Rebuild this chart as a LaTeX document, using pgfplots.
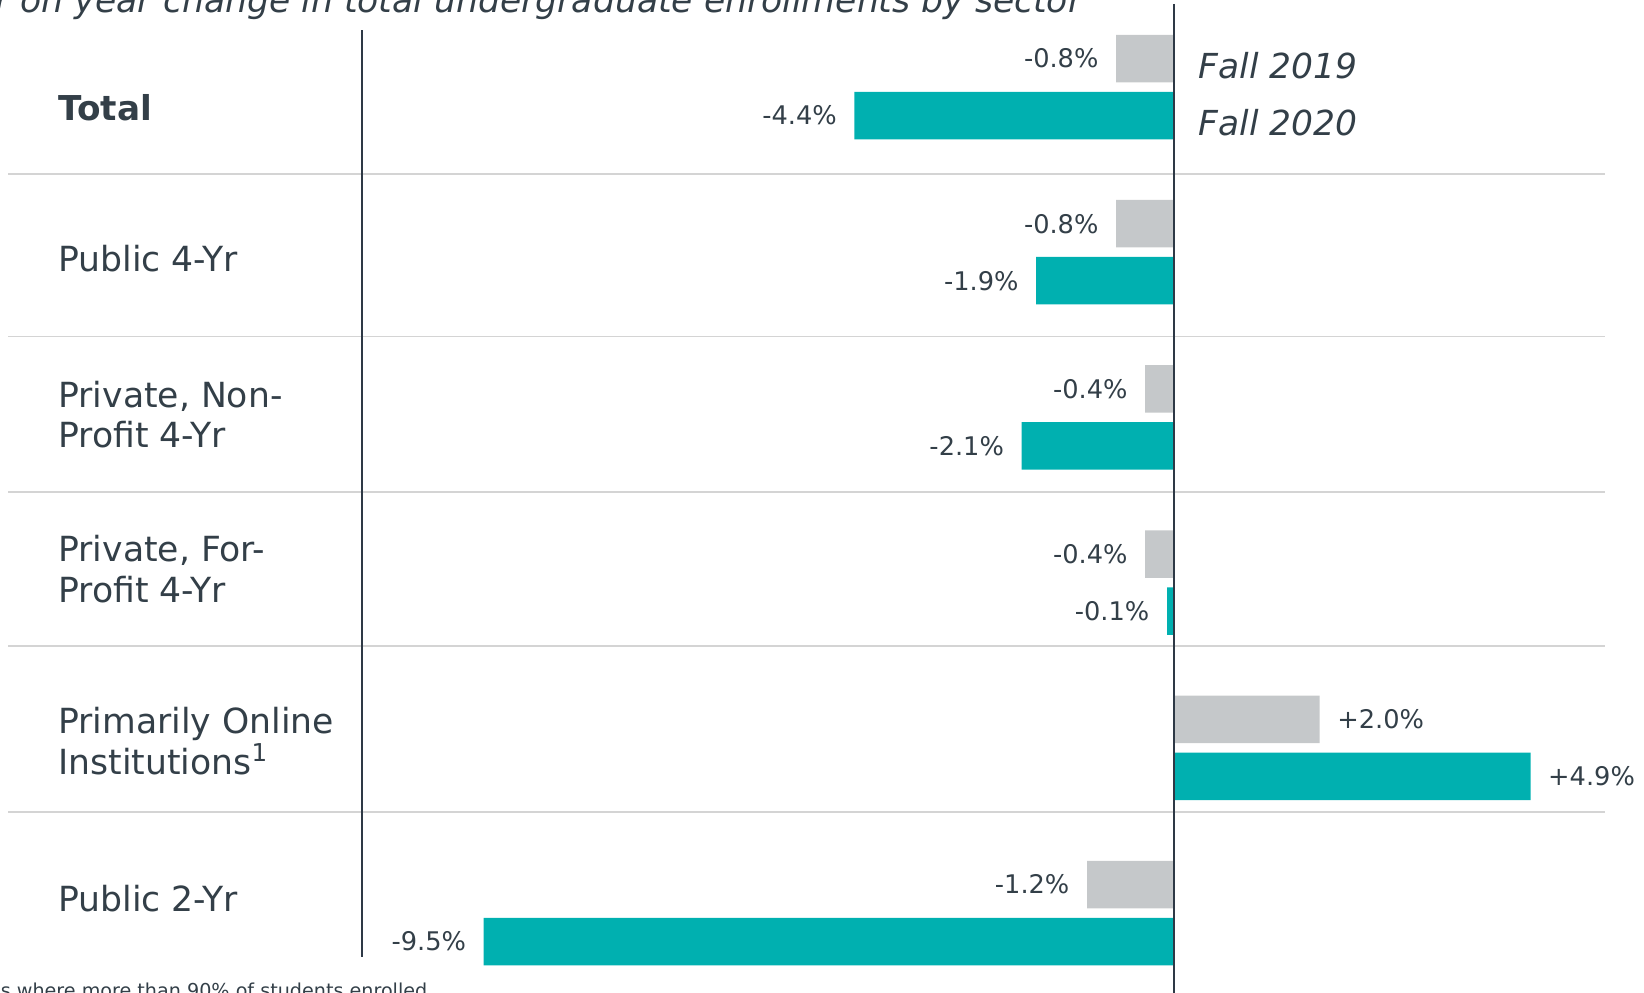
\documentclass[border=0pt]{standalone}
\usepackage{pgfplots}
\pgfplotsset{compat=1.18}
\usepackage{pgfplotstable}
\usepackage{fontspec}
\setmainfont{DejaVu Sans}
\definecolor{tealbar}{HTML}{00B0B0}
\definecolor{graybar}{HTML}{C5C8CA}
\definecolor{txt}{HTML}{333F48}
\definecolor{sepline}{HTML}{D4D4D4}
\definecolor{axline}{HTML}{2E3946}

% Fall 2019 (gray) and Fall 2020 (teal), year-on-year change in %
\pgfplotstableread{
cat v
0 -0.8
1 -0.8
2 -0.4
3 -0.4
4 2.0
5 -1.2
}\fallA
\pgfplotstableread{
cat v
0 -4.4
1 -1.9
2 -2.1
3 -0.1
4 4.9
5 -9.5
}\fallB

\begin{document}
\begin{tikzpicture}
\begin{axis}[
  at={(0,0)}, anchor=north west,
  scale only axis, width=164.4mm, height=99.3mm,
  xmin=-16.153, xmax=6.461,
  ymin=-0.5266, ymax=5.4843, y dir=reverse,
  axis lines=none, clip=false,
  xbar, bar width=4.75mm,
  point meta=x,
  nodes near coords={\pgfmathprintnumber[fixed,fixed zerofill,precision=1,showpos,assume math mode=true]{\pgfplotspointmeta}\%},
  nodes near coords style={font=\fontsize{7.3}{8}\selectfont, text=txt, inner xsep=1.7mm, inner ysep=0pt},
]
\addplot[fill=graybar, draw=none, bar shift=2.85mm] table[x=v,y=cat]{\fallA};
\addplot[fill=tealbar, draw=none, bar shift=-2.85mm] table[x=v,y=cat]{\fallB};
\end{axis}
% separators
\foreach \yy in {17.4,33.65,49.2,64.6,81.2}{
  \draw[sepline, line width=0.15mm] (0.84mm,-\yy mm) -- (160.5mm,-\yy mm);
}
% vertical lines
\draw[axline, line width=0.2mm] (36.23mm,-3.0mm) -- (36.23mm,-95.7mm);
\draw[axline, line width=0.2mm] (117.43mm,-0.4mm) -- (117.43mm,-99.3mm);
% category labels
\begin{scope}[every node/.style={anchor=west, align=left, text=txt, font=\fontsize{9.85}{11.6}\selectfont, inner sep=0pt}]
\node[font=\fontsize{9.75}{11.6}\selectfont\bfseries] at (5.77mm,-10.8mm) {Total};
\node at (5.77mm,-25.9mm) {Public 4-Yr};
\node at (5.77mm,-41.47mm) {Private, Non-\\Profit 4-Yr};
\node at (5.77mm,-56.88mm) {Private, For-\\Profit 4-Yr};
\node at (5.77mm,-74.08mm) {Primarily Online\\Institutions{\fontsize{7}{8}\selectfont\raisebox{0.9ex}{1}}};
\node at (5.77mm,-89.86mm) {Public 2-Yr};
\node[font=\fontsize{9.8}{11.6}\selectfont\itshape] at (119.8mm,-6.6mm) {Fall 2019};
\node[font=\fontsize{9.8}{11.6}\selectfont\itshape] at (119.8mm,-12.27mm) {Fall 2020};
\end{scope}
% cut-off title and footnote
\node[anchor=base east, inner sep=0pt, text=txt, font=\fontsize{9.85}{12}\selectfont\itshape] at (108.3mm,-1.2mm) {Year on year change in total undergraduate enrollments by sector};
\node[anchor=base east, inner sep=0pt, text=txt, font=\fontsize{5.45}{6}\selectfont] at (42.8mm,-99.7mm) {\textsuperscript{1}Institutions where more than 90\% of students enrolled};
\pgfresetboundingbox
\path (0,0) rectangle (164.4mm,-99.3mm);
\end{tikzpicture}
\end{document}
